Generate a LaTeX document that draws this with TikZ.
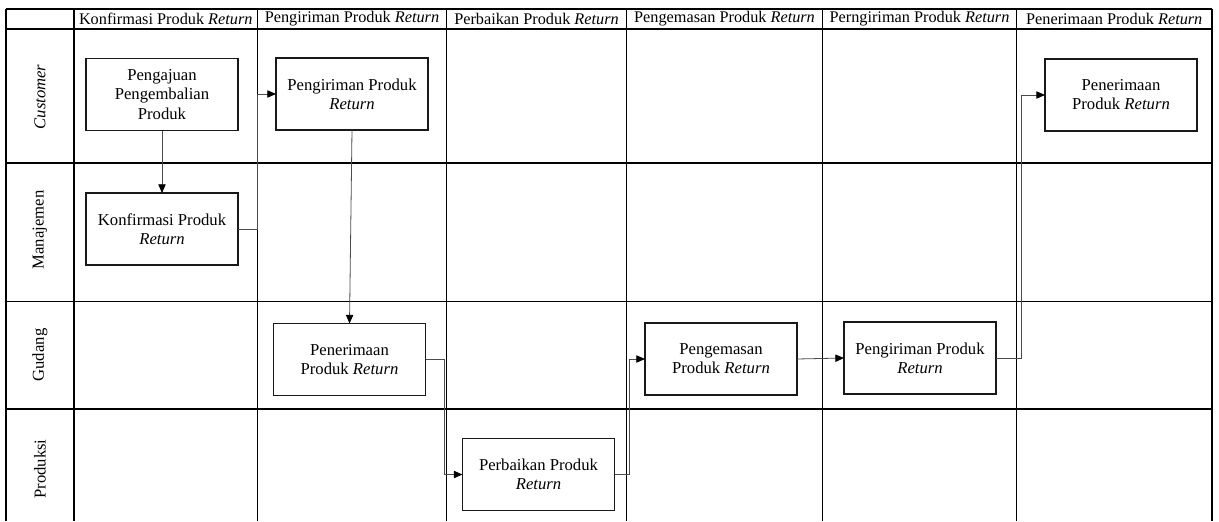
\documentclass[tikz,border=0pt]{standalone}
\usepackage{fontspec}
\setmainfont{Liberation Serif}
\usetikzlibrary{arrows.meta}
\begin{document}
\begin{tikzpicture}[x=0.75pt,y=-0.75pt,
  grid/.style={line width=0.8pt, black},
  procbox/.style={draw=black!90, line width=1.1pt, minimum width=114pt,
    minimum height=54pt, inner sep=0pt, outer sep=0pt, align=center,
    font=\fontsize{12.5}{14.3}\selectfont},
  conn/.style={line width=0.6pt, black!70},
  flow/.style={conn, -{Triangle[length=6.5pt,width=5.5pt,color=black]}},
  head/.style={font=\fontsize{12.2}{14}\selectfont, inner sep=0pt},
  lane/.style={font=\fontsize{12.5}{14}\selectfont, rotate=90, inner sep=0pt}]

\useasboundingbox (0,0) rectangle (1219,521);

% swimlane grid
\foreach \gx in {6,74,257.5,446.5,626.5,822.5,1016.5,1212}
  \draw[grid] (\gx,9) -- (\gx,521);
\foreach \gy in {9,29,163,301.5,409}
  \draw[grid] (6,\gy) -- (1212,\gy);

% column headers
\node[head] (h1) at (165.75,19) {Konfirmasi Produk \textit{Return}};
\node[head] (h2) at (352,19) {Pengiriman Produk \textit{Return}};
\node[head] (h3) at (536.5,19) {Perbaikan Produk \textit{Return}};
\node[head] (h4) at (724.5,19) {Pengemasan Produk \textit{Return}};
\node[head] (h5) at (919.5,19) {Perngiriman Produk \textit{Return}};
\node[head] (h6) at (1114.25,19) {Penerimaan Produk \textit{Return}};

% lane labels
\node[lane] (l1) at (40,97) {\textit{Customer}};
\node[lane] (l2) at (40,230) {Manajemen};
\node[lane] (l3) at (40,355) {Gudang};
\node[lane] (l4) at (40,469) {Produksi};

% process steps
\node[procbox] (b1) at (162,94.5) {Pengajuan\\Pengembalian\\Produk};
\node[procbox] (b2) at (352,94) {Pengiriman Produk\\\textit{Return}};
\node[procbox] (b3) at (162,229) {Konfirmasi Produk\\\textit{Return}};
\node[procbox] (b4) at (349.5,359.5) {Penerimaan\\Produk \textit{Return}};
\node[procbox] (b5) at (538.5,474.5) {Perbaikan Produk\\\textit{Return}};
\node[procbox] (b6) at (721,359) {Pengemasan\\Produk \textit{Return}};
\node[procbox] (b7) at (920,358) {Pengiriman Produk\\\textit{Return}};
\node[procbox] (b8) at (1121,95) {Penerimaan\\Produk \textit{Return}};

% flow
\draw[flow] (b1.south) -- (b3.north);
\draw[flow] (b3.east) -- ++(19,0) |- (b2.west);
\draw[flow] (b2.south) -- (b4.north);
\draw[flow] (b4.east) -- ++(19,0) |- (b5.west);
\draw[flow] (b5.east) -- ++(15,0) |- (b6.west);
\draw[flow] (b6.east) -- (b7.west);
\draw[flow] (b7.east) -- ++(25,0) |- (b8.west);
\end{tikzpicture}
\end{document}
